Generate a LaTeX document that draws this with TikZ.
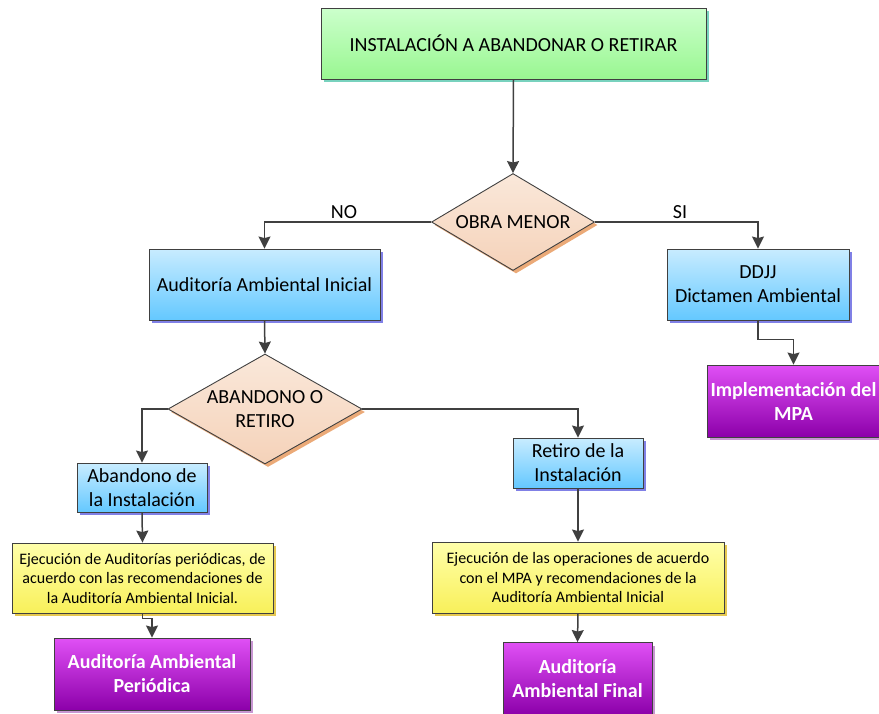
\documentclass[tikz,border=0pt]{standalone}
\usepackage{fontspec}
\setmainfont{Carlito}
\usepackage{tikz}
\usetikzlibrary{shapes.geometric, arrows.meta, positioning, shadows}
\definecolor{linecolor}{RGB}{64, 64, 64}
\definecolor{greentop}{RGB}{204, 255, 204}
\definecolor{greenbot}{RGB}{153, 247, 145}
\definecolor{greenshade}{RGB}{120, 210, 190}
\definecolor{bluetop}{RGB}{200, 236, 255}
\definecolor{bluebot}{RGB}{100, 200, 255}
\definecolor{blueshade}{RGB}{128, 128, 230}
\definecolor{diamtop}{RGB}{250, 232, 218}
\definecolor{diambot}{RGB}{245, 210, 185}
\definecolor{diamshade}{RGB}{235, 170, 120}
\definecolor{yellowtop}{RGB}{255, 255, 170}
\definecolor{yellowbot}{RGB}{248, 240, 90}
\definecolor{yellowshade}{RGB}{230, 200, 80}
\definecolor{purpletop}{RGB}{224, 80, 245}
\definecolor{purplebot}{RGB}{140, 0, 170}
\definecolor{purpleshade}{RGB}{200, 150, 210}

\begin{document}
\begin{tikzpicture}[x=1pt, y=-1pt,
    box/.style={rectangle, draw=linecolor, line width=0.9pt, align=center, inner sep=2pt,
        font=\fontsize{20}{24}\selectfont},
    startbox/.style={box, top color=greentop, bottom color=greenbot,
        drop shadow={shadow xshift=3pt, shadow yshift=-3pt, fill=greenshade, opacity=1}},
    stepbox/.style={box, top color=bluetop, bottom color=bluebot,
        drop shadow={shadow xshift=3pt, shadow yshift=-3pt, fill=blueshade, opacity=1}},
    notebox/.style={box, top color=yellowtop, bottom color=yellowbot,
        font=\fontsize{16}{19.5}\selectfont,
        drop shadow={shadow xshift=3pt, shadow yshift=-3pt, fill=yellowshade, opacity=1}},
    endbox/.style={box, top color=purpletop, bottom color=purplebot, text=white,
        font=\fontsize{20}{24}\selectfont\bfseries,
        drop shadow={shadow xshift=3pt, shadow yshift=-3pt, fill=purpleshade, opacity=1}},
    decision/.style={diamond, draw=linecolor, line width=0.9pt, align=center, inner sep=0pt,
        top color=diamtop, bottom color=diambot, font=\fontsize{20}{24}\selectfont,
        drop shadow={shadow xshift=3pt, shadow yshift=-3pt, fill=diamshade, opacity=1}},
    lbl/.style={font=\fontsize{20}{24}\selectfont, inner sep=0pt},
    flow/.style={draw=linecolor, line width=1.5pt, -{Stealth[length=12pt, width=12pt, inset=1.5pt]}}
]
    \useasboundingbox (0, 0) rectangle (879, 713);

    % Start
    \node[startbox, minimum width=385pt, minimum height=71pt] (inst) at (513.5, 43.5)
        {INSTALACIÓN A ABANDONAR O RETIRAR};

    % First decision
    \node[decision, aspect=1.68, minimum width=163pt, minimum height=97pt] (obra) at (513, 222)
        {OBRA MENOR};
    \node[lbl] (no) at (344, 212) {NO};
    \node[lbl] (si) at (680, 212) {SI};

    % Branch NO
    \node[stepbox, minimum width=231pt, minimum height=71pt] (aai) at (264.5, 284.5)
        {Auditoría Ambiental Inicial};
    \node[decision, aspect=1.76, minimum width=194pt, minimum height=110pt] (aar) at (265, 409)
        {ABANDONO O\\RETIRO};

    % Abandono
    \node[stepbox, minimum width=130pt, minimum height=49pt] (aban) at (142, 487.5)
        {Abandono de\\la Instalación};
    \node[notebox, minimum width=261pt, minimum height=70pt] (ejecA) at (142.5, 578)
        {Ejecución de Auditorías periódicas, de\\acuerdo con las recomendaciones de\\la Auditoría Ambiental Inicial.};
    \node[endbox, minimum width=196pt, minimum height=72pt] (aap) at (152, 674)
        {Auditoría Ambiental\\Periódica};

    % Retiro
    \node[stepbox, minimum width=130pt, minimum height=50pt] (ret) at (578, 463)
        {Retiro de la\\Instalación};
    \node[notebox, minimum width=292pt, minimum height=71pt] (ejecR) at (578, 577.5)
        {Ejecución de las operaciones de acuerdo\\con el MPA y recomendaciones de la\\Auditoría Ambiental Inicial};
    \node[endbox, minimum width=149pt, minimum height=72pt] (aaf) at (577.5, 678.5)
        {Auditoría\\Ambiental Final};

    % Branch SI
    \node[stepbox, minimum width=182pt, minimum height=71pt] (ddjj) at (758, 284.5)
        {DDJJ\\Dictamen Ambiental};
    \node[endbox, minimum width=173pt, minimum height=72pt] (mpa) at (793.5, 401)
        {Implementación del\\MPA};

    % Connectors
    \draw[flow] (inst.south) -- (obra.north);
    \draw[flow] (obra.west) -| (aai.north);
    \draw[flow] (obra.east) -| (ddjj.north);
    \draw[flow] (aai.south) -- (aar.north);
    \draw[flow] (aar.west) -| (aban.north);
    \draw[flow] (aar.east) -| (ret.north);
    \draw[flow] (aban.south) -- (ejecA.north);
    \draw[flow] (ejecA.south) -- ++(0, 5) -| (aap.north);
    \draw[flow] (ret.south) -- (ejecR.north);
    \draw[flow] (ejecR.south) -- (aaf.north);
    \draw[flow] (ddjj.south) -- ++(0, 19) -| (mpa.north);

\end{tikzpicture}
\end{document}
